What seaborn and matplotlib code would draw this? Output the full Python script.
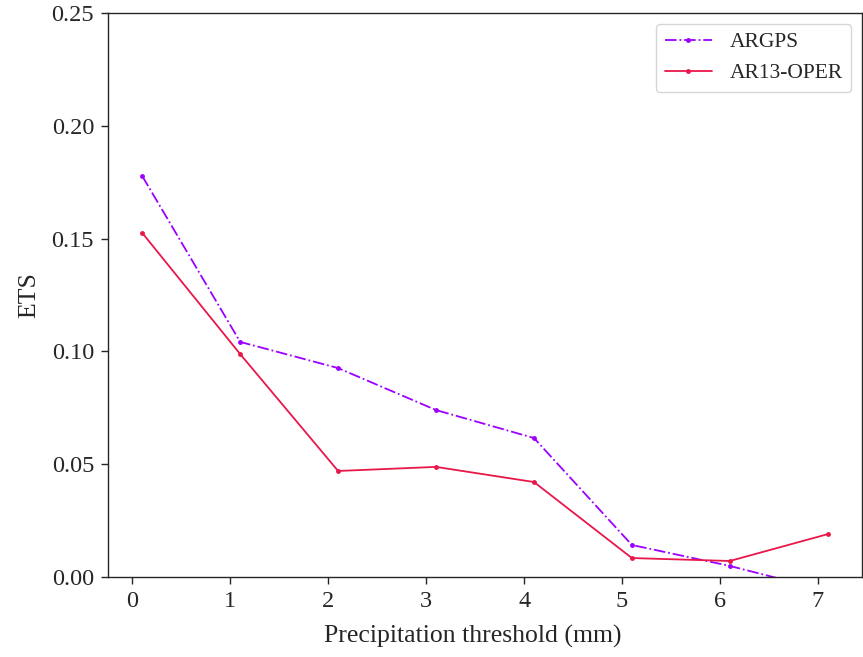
import matplotlib
matplotlib.use("Agg")
import matplotlib.pyplot as plt
import seaborn as sns
import pandas as pd

thresholds = [0.1, 1.1, 2.1, 3.1, 4.1, 5.1, 6.1, 7.1]
argps = [0.1777, 0.1042, 0.0926, 0.0740, 0.0616, 0.0142, 0.0049, -0.0062]
ar13_oper = [0.1525, 0.0988, 0.0470, 0.0488, 0.0421, 0.0084, 0.0071, 0.0190]
series_names = ["ARGPS", "AR13-OPER"]

sns.set_style("ticks")
plt.rcParams["font.family"] = ["Liberation Serif", "DejaVu Serif"]

df = pd.DataFrame({"x": thresholds * 2,
                   "ETS": argps + ar13_oper,
                   "model": [series_names[0]] * len(argps) + [series_names[1]] * len(ar13_oper)})

fig = plt.figure(figsize=(8.63, 6.57), dpi=100)
ax = fig.add_axes([108 / 863, 80 / 657, 754 / 863, 564 / 657])

sns.lineplot(data=df[df.model == "ARGPS"], x="x", y="ETS", ax=ax, color="#9d00ff",
             linestyle="-.", marker="o", markersize=3.5, markeredgewidth=0,
             linewidth=1.3, label="ARGPS")
sns.lineplot(data=df[df.model == "AR13-OPER"], x="x", y="ETS", ax=ax, color="#e8174a",
             linestyle="-", marker="o", markersize=3.5, markeredgewidth=0,
             linewidth=1.3, label="AR13-OPER")

ax.set_ylim(0, 0.25)
ax.set_yticks([0, 0.05, 0.10, 0.15, 0.20, 0.25])
ax.set_yticklabels(["0.00", "0.05", "0.10", "0.15", "0.20", "0.25"])
ax.set_xticks(range(8))
ax.set_xlabel("Precipitation threshold (mm)", fontsize=18.5)
ax.set_ylabel("ETS", fontsize=18.5, labelpad=8)
ax.xaxis.set_label_coords(0.484, -0.085)
ax.tick_params(labelsize=17.5, length=5, width=1.0, pad=5)
for s in ax.spines.values():
    s.set_visible(True)
    s.set_linewidth(1.0)
ax.legend(loc="upper right", fontsize=15.5, frameon=True, handlelength=2.2)

fig.savefig("out.png", dpi=100)
